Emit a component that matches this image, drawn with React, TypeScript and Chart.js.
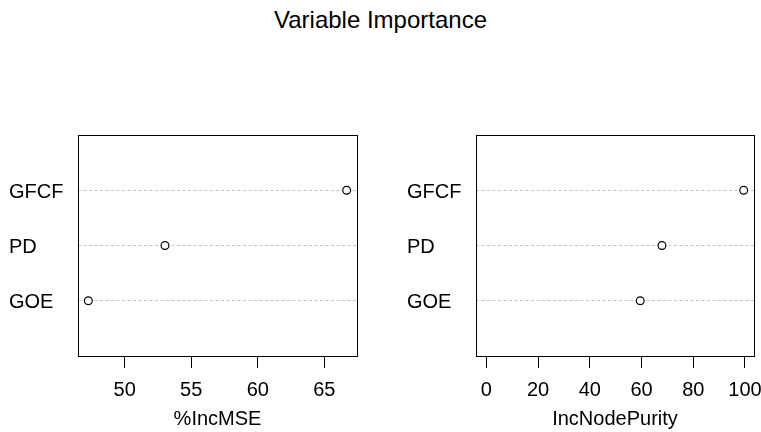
import React, { useEffect, useRef } from "react";
import { Chart, registerables } from "chart.js";

Chart.register(...registerables);

const variables = ["GOE", "PD", "GFCF"]; // bottom to top (y = 1, 2, 3)
const incMSE = [47.27, 53.03, 66.68];
const incNodePurity = [59.5, 67.9, 99.5];
const incMSETicks = [50, 55, 60, 65];
const nodePurityTicks = [0, 20, 40, 60, 80, 100];
const title = "Variable Importance";

const FONT = "'Liberation Sans', Arial, sans-serif";

const boxPlugin = {
  id: "rbox",
  afterDraw(chart: any) {
    const { ctx, chartArea } = chart;
    ctx.save();
    ctx.strokeStyle = "#000";
    ctx.lineWidth = 1;
    ctx.setLineDash([]);
    ctx.strokeRect(
      Math.round(chartArea.left) + 0.5,
      Math.round(chartArea.top) + 0.5,
      Math.round(chartArea.right - chartArea.left),
      Math.round(chartArea.bottom - chartArea.top)
    );
    ctx.restore();
  },
};

function makeConfig(
  values: number[],
  ticks: number[],
  xmin: number,
  xmax: number,
  xTitle: string,
  padLeft: number,
  padRight: number
): any {
  return {
    type: "scatter",
    data: {
      datasets: [
        {
          data: values.map((v, i) => ({ x: v, y: i + 1 })),
          pointRadius: 3.9,
          pointHoverRadius: 3.9,
          borderColor: "#000",
          backgroundColor: "#fff",
          borderWidth: 1.2,
        },
      ],
    },
    options: {
      animation: false,
      responsive: false,
      devicePixelRatio: 1,
      events: [],
      layout: { padding: { left: padLeft, right: padRight, top: 135, bottom: 0 } },
      plugins: { legend: { display: false }, tooltip: { enabled: false }, title: { display: false } },
      scales: {
        x: {
          type: "linear",
          position: "bottom",
          min: xmin,
          max: xmax,
          afterBuildTicks: (axis: any) => {
            axis.ticks = ticks.map((v) => ({ value: v }));
          },
          afterFit: (axis: any) => {
            axis.height = 76;
            axis.paddingLeft = 0;
            axis.paddingRight = 0;
          },
          grid: {
            drawOnChartArea: false,
            drawTicks: true,
            tickLength: 12,
            color: "#000",
            tickColor: "#000",
            tickWidth: 1,
          },
          border: { display: false },
          ticks: {
            color: "#000",
            font: { family: FONT, size: 20 },
            padding: 10,
            maxRotation: 0,
            autoSkip: false,
            callback: (v: any) => String(v),
          },
          title: {
            display: true,
            text: xTitle,
            color: "#000",
            font: { family: FONT, size: 20 },
            padding: { top: 0, bottom: 1 },
          },
        },
        y: {
          type: "linear",
          position: "left",
          min: 0,
          max: 4,
          afterBuildTicks: (axis: any) => {
            axis.ticks = variables.map((_, i) => ({ value: i + 1 }));
          },
          afterFit: (axis: any) => {
            axis.width = 69;
            axis.paddingTop = 0;
            axis.paddingBottom = 0;
          },
          grid: {
            drawOnChartArea: true,
            drawTicks: false,
            color: "#c4c4c4",
            lineWidth: 1,
          },
          border: { display: false, dash: [3, 2.5] },
          ticks: {
            color: "#000",
            font: { family: FONT, size: 20 },
            crossAlign: "far",
            padding: 0,
            labelOffset: 2,
            autoSkip: false,
            callback: (v: any) => variables[Math.round(v) - 1] ?? "",
          },
        },
      },
    },
    plugins: [boxPlugin],
  };
}

export default function App() {
  const leftRef = useRef<HTMLCanvasElement>(null);
  const rightRef = useRef<HTMLCanvasElement>(null);

  useEffect(() => {
    const mseMin = Math.min(...incMSE);
    const mseMax = Math.max(...incMSE);
    const mseExt = (mseMax - mseMin) * 0.04;
    const npMax = Math.max(...incNodePurity);
    const npExt = npMax * 0.04;

    const c1 = new Chart(
      leftRef.current as HTMLCanvasElement,
      makeConfig(incMSE, incMSETicks, mseMin - mseExt, mseMax + mseExt, "%IncMSE", 9, 23)
    );
    const c2 = new Chart(
      rightRef.current as HTMLCanvasElement,
      makeConfig(incNodePurity, nodePurityTicks, 0 - npExt, npMax + npExt, "IncNodePurity", 27, 7)
    );
    return () => {
      c1.destroy();
      c2.destroy();
    };
  }, []);

  return (
    <div
      style={{
        position: "absolute",
        left: 0,
        top: 0,
        width: 761,
        height: 432,
        background: "#fff",
        overflow: "hidden",
      }}
    >
      <div
        style={{
          position: "absolute",
          left: 0,
          top: 8,
          width: 761,
          textAlign: "center",
          fontFamily: FONT,
          fontSize: 24,
          lineHeight: "24px",
          color: "#000",
        }}
      >
        {title}
      </div>
      <canvas
        ref={leftRef}
        width={380}
        height={432}
        style={{ position: "absolute", left: 0, top: 0, width: 380, height: 432 }}
      />
      <canvas
        ref={rightRef}
        width={381}
        height={432}
        style={{ position: "absolute", left: 380, top: 0, width: 381, height: 432 }}
      />
    </div>
  );
}
